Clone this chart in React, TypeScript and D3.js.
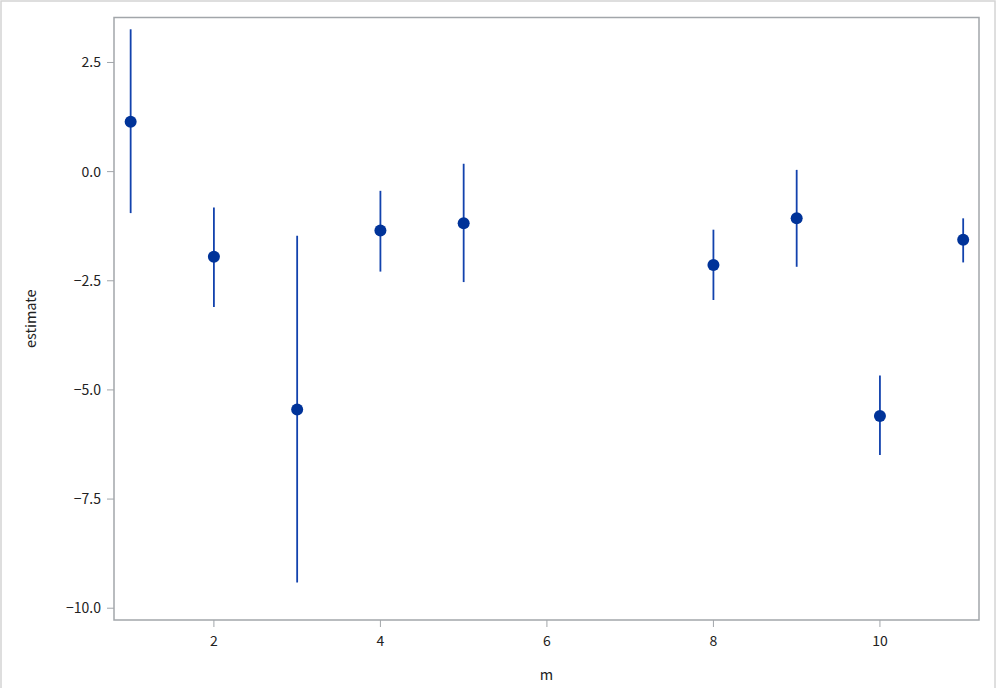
import React from "react";
import * as d3 from "d3";

const mValues = [1, 2, 3, 4, 5, 8, 9, 10, 11];
const estimates = [1.14, -1.95, -5.45, -1.35, -1.18, -2.14, -1.07, -5.6, -1.56];
const upper = [3.26, -0.82, -1.47, -0.44, 0.18, -1.33, 0.04, -4.67, -1.07];
const lower = [-0.95, -3.1, -9.41, -2.29, -2.53, -2.94, -2.18, -6.49, -2.08];
const xTicks = [2, 4, 6, 8, 10];
const yTicks = [2.5, 0, -2.5, -5, -7.5, -10];

const W = 997;
const H = 688;
const left = 114;
const right = 979;
const top = 17.5;
const bottom = 620;
const font = "'Noto Sans CJK JP', 'Noto Sans', sans-serif";

export default function App() {
  const x = d3.scaleLinear().domain([0.8, 11.19]).range([left, right]);
  const y = d3.scaleLinear().domain([-10.27, 3.53]).range([bottom, top]);
  const fmt = (v: number) => d3.format(".1f")(v).replace("-", "\u2212");
  const lineColor = "#1242ad";
  const dotColor = "#003399";
  return (
    <svg
      width={W}
      height={H}
      style={{ position: "absolute", left: 0, top: 0, background: "#fff" }}
    >
      <rect x={1} y={1} width={994} height={H + 10} fill="none" stroke="#d4d4d4" strokeWidth={1.5} />
      <rect
        x={left}
        y={top}
        width={right - left}
        height={bottom - top}
        fill="#fff"
        stroke="#a2a6aa"
        strokeWidth={1.5}
      />
      {yTicks.map((t) => (
        <g key={"y" + t}>
          <line x1={left - 7} x2={left} y1={y(t)} y2={y(t)} stroke="#a2a6aa" strokeWidth={1} />
          <text
            x={left - 13}
            y={y(t)}
            dy="0.35em"
            textAnchor="end"
            fontFamily={font}
            fontSize={14}
            fill="#222"
          >
            {fmt(t)}
          </text>
        </g>
      ))}
      {xTicks.map((t) => (
        <g key={"x" + t}>
          <line x1={x(t)} x2={x(t)} y1={bottom} y2={bottom + 7} stroke="#a2a6aa" strokeWidth={1} />
          <text
            x={x(t)}
            y={bottom + 26}
            textAnchor="middle"
            fontFamily={font}
            fontSize={14}
            fill="#222"
          >
            {t}
          </text>
        </g>
      ))}
      <text
        transform={`translate(36,${(top + bottom) / 2}) rotate(-90)`}
        textAnchor="middle"
        fontFamily={font}
        fontSize={14.5}
        fill="#222"
      >
        estimate
      </text>
      <text x={(left + right) / 2} y={680} textAnchor="middle" fontFamily={font} fontSize={14.5} fill="#222">
        m
      </text>
      {mValues.map((m, i) => (
        <g key={"p" + m}>
          <line x1={x(m)} x2={x(m)} y1={y(upper[i])} y2={y(lower[i])} stroke={lineColor} strokeWidth={1.8} />
          <circle cx={x(m)} cy={y(estimates[i])} r={6} fill={dotColor} />
        </g>
      ))}
    </svg>
  );
}
